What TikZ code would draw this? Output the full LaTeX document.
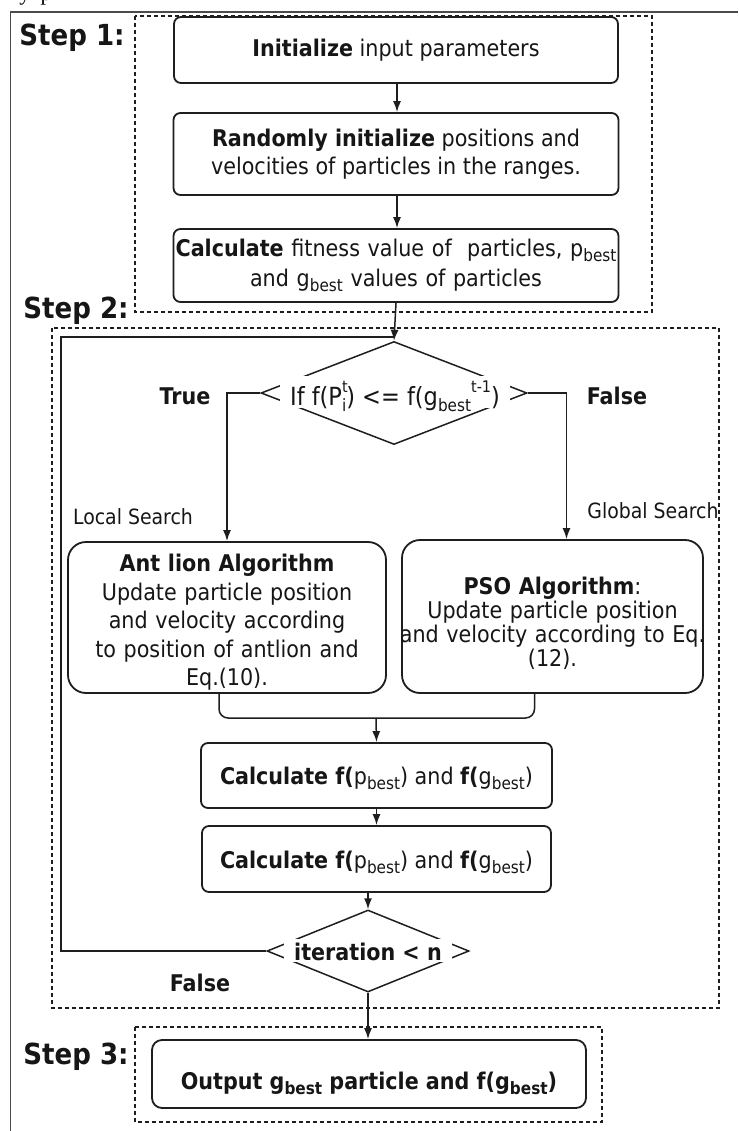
\documentclass[tikz,border=0pt]{standalone}
\usepackage{fontspec}
\setmainfont{DejaVu Sans Condensed}
\newfontfamily\pageserif{Liberation Serif}
\usetikzlibrary{arrows.meta,shapes.geometric}

\definecolor{linec}{HTML}{1E1E1E}
\definecolor{textc}{HTML}{161616}

% text sizes
\newcommand\bodysize{\fontsize{23}{28}\selectfont}
\newcommand\notesize{\fontsize{21}{24}\selectfont}
\newcommand\labelsize{\fontsize{29}{30}\selectfont\bfseries}
% lowered / raised small text for indices
\newcommand\lowtxt[1]{\raisebox{-0.4ex}{\fontsize{17}{17}\selectfont #1}}
\newcommand\hightxt[1]{\raisebox{1.0ex}{\fontsize{16}{16}\selectfont #1}}
% a centred line that keeps its own width
\newcommand\wideline[1]{\makebox[0pt][c]{#1}}

\tikzset{
  box/.style={draw=linec, line width=1.8pt, rounded corners=7pt, fill=white,
    inner sep=0pt, align=center, text=textc, font=\bodysize},
  dashbox/.style={draw=linec, line width=1.2pt, dash pattern=on 4pt off 3pt},
  link/.style={draw=linec, line width=1.5pt},
  arrow/.style={link, -{Latex[length=11pt,width=8pt]}},
  decision/.style={draw=linec, line width=1.5pt, shape=diamond, inner sep=0pt},
  mask/.style={fill=white, inner sep=0pt, text=textc, font=\bodysize},
  plain/.style={text=textc, font=\notesize, inner sep=0pt},
  steplabel/.style={text=textc, font=\labelsize, inner sep=0pt},
  branch/.style={text=textc, font=\bodysize\bfseries, inner sep=0pt},
}

\begin{document}
\begin{tikzpicture}[x=1pt, y=-1pt]
\useasboundingbox (0,0) rectangle (738,1131);
\clip (0,0) rectangle (738,1131);
\fill[white] (0,0) rectangle (738,1131);

% page frame and the cut line of text above it
\draw[line width=1.3pt, draw=linec!80] (10.5,1131) -- (10.5,12) -- (738,12);
\node[anchor=base, font=\pageserif\fontsize{22}{22}\selectfont, inner sep=0pt] (glyphy) at (25,1) {y};
\node[anchor=base, font=\pageserif\fontsize{22}{22}\selectfont, inner sep=0pt] (glyphp) at (46,1) {p};

% step frames
\draw[dashbox] (135,16) rectangle (652,312);
\draw[dashbox] (52,328) rectangle (719,1008);
\draw[dashbox] (135,1027) rectangle (602,1122);

\node[steplabel] (s1) at (72,38) {Step 1:};
\node[steplabel] (s2) at (76,311) {Step 2:};
\node[steplabel] (s3) at (76,1057) {Step 3:};

% step 1
\node[box, minimum width=444pt, minimum height=66pt] (init) at (396,50)
  {\textbf{Initialize} input parameters};
\node[box, minimum width=445pt, minimum height=82pt] (rand) at (396,154)
  {\textbf{Randomly initialize} positions and\\velocities of particles in the ranges.};
\node[box, minimum width=445pt, minimum height=73pt, text width=445pt, font=\fontsize{23}{30}\selectfont] (fit) at (396,265.5)
  {\textbf{Calculate} fitness value of~ particles, p\lowtxt{best}\\and g\lowtxt{best} values of particles};

% step 2: first decision, its text masks the middle of the outline
\node[decision, minimum width=266pt, minimum height=103pt] (d1) at (394,393) {};
\node[mask, minimum width=230pt, minimum height=32pt, font=\fontsize{25}{28}\selectfont] (d1t) at (395,392)
  {\raisebox{-4pt}[\height][\depth]{If f(P\rlap{\hightxt{t}}\lowtxt{i}) <= f(g\lowtxt{best}\hightxt{t-1})}};

\node[branch] (ltrue) at (185,396) {True};
\node[branch] (lfalse) at (617,396) {False};
\node[plain] (lloc) at (133,517) {Local Search};
\node[plain] (lglob) at (653,511) {Global Search};

\node[box, rounded corners=18pt, minimum width=318pt, minimum height=151pt, text width=318pt,
  font=\fontsize{23}{28.5}\selectfont] (ant) at (227,617.5)
  {\rule{0pt}{27pt}\textbf{Ant lion Algorithm}\\Update particle position\\and velocity according\\to position of antlion and\\Eq.(10).};
\node[box, rounded corners=18pt, minimum width=301pt, minimum height=153pt, text width=301pt,
  font=\fontsize{23}{24}\selectfont] (pso) at (552.5,616.5)
  {\rule{0pt}{32pt}\textbf{PSO Algorithm}:\\Update particle position\\\wideline{and velocity according to Eq.}\\(12).};

\node[box, minimum width=351pt, minimum height=65pt] (fa) at (376.5,775.5)
  {\raisebox{-3pt}[\height][\depth]{\textbf{Calculate f(}p\lowtxt{best}) and \textbf{f(}g\lowtxt{best})}};
\node[box, minimum width=349pt, minimum height=66pt] (fb) at (376.5,859)
  {\raisebox{-3pt}[\height][\depth]{\textbf{Calculate f(}p\lowtxt{best}) and \textbf{f(}g\lowtxt{best})}};

% second decision
\node[decision, minimum width=202pt, minimum height=82pt] (d2) at (368,951) {};
\node[mask, minimum width=168pt, minimum height=23pt, font=\bodysize\bfseries] (d2t) at (368,950.5)
  {\raisebox{-1pt}[\height][\depth]{iteration < n}};
\node[branch] (lfalse2) at (200,983) {False};

% step 3
\node[box, rounded corners=10pt, minimum width=434pt, minimum height=68pt, font=\bodysize\bfseries] (out) at (369,1074)
  {\raisebox{-9pt}[\height][\depth]{Output g\lowtxt{best} particle and f(g\lowtxt{best})}};

% connectors
\draw[arrow] (init.south -| 397,0) -- (rand.north -| 397,0);
\draw[arrow] (rand.south -| 397,0) -- (fit.north -| 397,0);
\draw[arrow] (fit.south) -- (d1.north);

\coordinate (loopcorner) at (61,337);
\draw[link] (d2.west) -| (loopcorner) -- (d1.north |- loopcorner);

\draw[arrow] (d1.west) -| (ant.north);
\draw[arrow] (d1.east) -| ([xshift=14pt]pso.north);

\coordinate (merge) at (376,718);
\draw[link, rounded corners=9pt] ([xshift=-8pt]ant.south) |- (merge) -| ([xshift=-18pt]pso.south);
\draw[arrow] (merge) -- (fa.north);
\draw[arrow] (fa.south) -- (fb.north);
\draw[arrow] (fb.south -| d2.north) -- (d2.north);
\draw[arrow] (d2.south) -- (out.north -| d2.south);
\end{tikzpicture}
\end{document}
